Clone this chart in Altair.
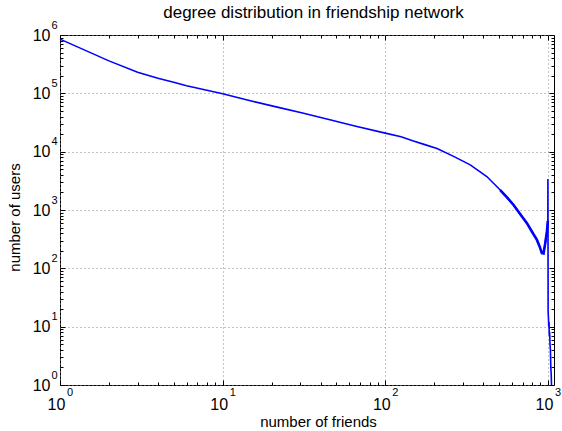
import altair as alt
import pandas as pd

# ---- data ----
friends = [1, 2, 3, 4, 5, 6, 8, 10, 15, 22, 31, 45, 65, 100, 125, 149, 175, 208,
           263, 333, 421, 509, 560, 615, 680, 743, 800, 856, 890, 918, 940, 963,
           985, 995, 999, 1000, 1003, 1008, 1012, 1016, 1020, 1025, 1030, 1036,
           1042, 1048, 1052]
users = [8.5e5, 3.6e5, 2.3e5, 1.82e5, 1.55e5, 1.35e5, 1.13e5, 9.8e4, 7.4e4, 5.75e4,
         4.6e4, 3.55e4, 2.75e4, 2.08e4, 1.8e4, 1.53e4, 1.32e4, 1.135e4,
         8.3e3, 5.95e3, 3.75e3, 2.2e3, 1.65e3, 1.22e3, 830, 594, 420, 307, 235,
         182, 180, 270, 420, 560, 650, 3400, 18, 14, 10, 12, 7, 8, 5, 4,
         2, 1.5, 1]

x_major = [1, 10, 100, 1000]
x_minor = [2, 3, 4, 5, 6, 7, 8, 9, 20, 30, 40, 50, 60, 70, 80, 90,
           200, 300, 400, 500, 600, 700, 800, 900]
y_major = [1, 10, 100, 1000, 10000, 100000, 1000000]
y_minor = [m * 10 ** k for k in range(6) for m in range(2, 10)]

title_text = "degree distribution in friendship network"
x_title = "number of friends"
y_title = "number of users"

df = pd.DataFrame({"friends": friends, "users": users})

W, H = 494, 350
FONT = "Liberation Sans"
BLUE = "#0000ff"
xscale = alt.Scale(type="log", domain=[1, 1090], nice=False)
yscale = alt.Scale(type="log", domain=[1, 1e6], nice=False)
EXP = "'' + round(log(datum.value) / LN10)"


def layer(xaxis, yaxis, visible=False):
    mark = alt.Chart(df).mark_line(color=BLUE, strokeWidth=1.6,
                                   opacity=1 if visible else 0)
    return mark.encode(
        x=alt.X("friends:Q", scale=xscale, axis=xaxis),
        y=alt.Y("users:Q", scale=yscale, axis=yaxis),
    )


def tick_axis(orient, values, size, offset):
    return alt.Axis(orient=orient, values=values, offset=offset, tickSize=size,
                    ticks=True, tickColor="black", tickWidth=1, labels=False,
                    domain=False, grid=False, title=None)


main = layer(
    alt.Axis(orient="bottom", values=x_major, labelExpr="'10'", ticks=False,
             tickSize=0, domain=False, grid=True, gridDash=[1, 3],
             gridColor="#888888", gridWidth=1, labelFont=FONT, labelFontSize=16,
             labelColor="black", labelPadding=11, labelOffset=-4, labelBaseline="top",
             labelFlush=False, labelOverlap=False,
             title=x_title, titleFont=FONT, titleFontSize=15,
             titleFontWeight="normal", titleColor="black", titleX=258, titleY=41,
             titleBaseline="alphabetic"),
    alt.Axis(orient="left", values=y_major, labelExpr="'10'", ticks=False,
             tickSize=0, domain=False, grid=True, gridDash=[1, 3],
             gridColor="#888888", gridWidth=1, labelFont=FONT, labelFontSize=16,
             labelColor="black", labelPadding=10, labelAlign="right",
             labelBaseline="middle", labelFlush=False, labelOverlap=False,
             title=y_title, titleFont=FONT, titleFontSize=15,
             titleFontWeight="normal", titleColor="black", titleX=-41, titleY=182,
             titleBaseline="alphabetic"),
    visible=True,
)

# thicker, noisy-looking part of the curve (the reference is jagged there)
thick = alt.Chart(df).transform_filter(
    (alt.datum.friends >= 480) & (alt.datum.friends <= 999)
).mark_line(color=BLUE, strokeWidth=2.6).encode(
    x=alt.X("friends:Q", scale=xscale, axis=None),
    y=alt.Y("users:Q", scale=yscale, axis=None),
)

exps = layer(
    alt.Axis(orient="bottom", values=x_major, labelExpr=EXP, ticks=False,
             tickSize=0, domain=False, grid=False, labelFont=FONT,
             labelFontSize=11, labelColor="black", labelPadding=1, labelOffset=6.5,
             labelAlign="left", labelBaseline="top", labelFlush=False,
             labelOverlap=False, title=None),
    alt.Axis(orient="left", values=y_major, labelExpr=EXP, ticks=False,
             tickSize=0, domain=False, grid=False, labelFont=FONT,
             labelFontSize=11, labelColor="black", labelPadding=9,
             labelLineHeight=19.4, labelAlign="left", labelBaseline="line-bottom",
             labelFlush=False, labelOverlap=False, title=None),
)

title_layer = alt.Chart(df).mark_line(opacity=0).encode(
    x=alt.X("friends:Q", scale=xscale,
            axis=alt.Axis(orient="top", offset=0, ticks=False, labels=False,
                          domain=False, grid=False, title=title_text,
                          titleFont=FONT, titleFontSize=17,
                          titleFontWeight="normal", titleColor="black",
                          titleX=253, titleY=-17.7, titleAlign="center",
                          titleBaseline="alphabetic")),
    y=alt.Y("users:Q", scale=yscale, axis=None),
)

t1 = layer(tick_axis("top", x_major, 5, -H), tick_axis("right", y_major, 5, -W))
t2 = layer(tick_axis("top", x_minor, 3, -H), tick_axis("right", y_minor, 3, -W))
t3 = layer(tick_axis("bottom", x_major, 5, -H), tick_axis("left", y_major, 5, -W))
t4 = layer(tick_axis("bottom", x_minor, 3, -H), tick_axis("left", y_minor, 3, -W))

chart = (
    alt.layer(main, thick, exps, title_layer, t1, t2, t3, t4)
    .resolve_axis(x="independent", y="independent")
    .properties(
        width=W, height=H,
        autosize=alt.AutoSizeParams(type="none"),
        padding={"left": 60, "top": 35, "right": 8, "bottom": 46},
        background="white",
    )
    .configure_view(stroke="black", strokeWidth=1)
)

chart.save("out.html", embed_options={"renderer": "svg", "actions": False})
